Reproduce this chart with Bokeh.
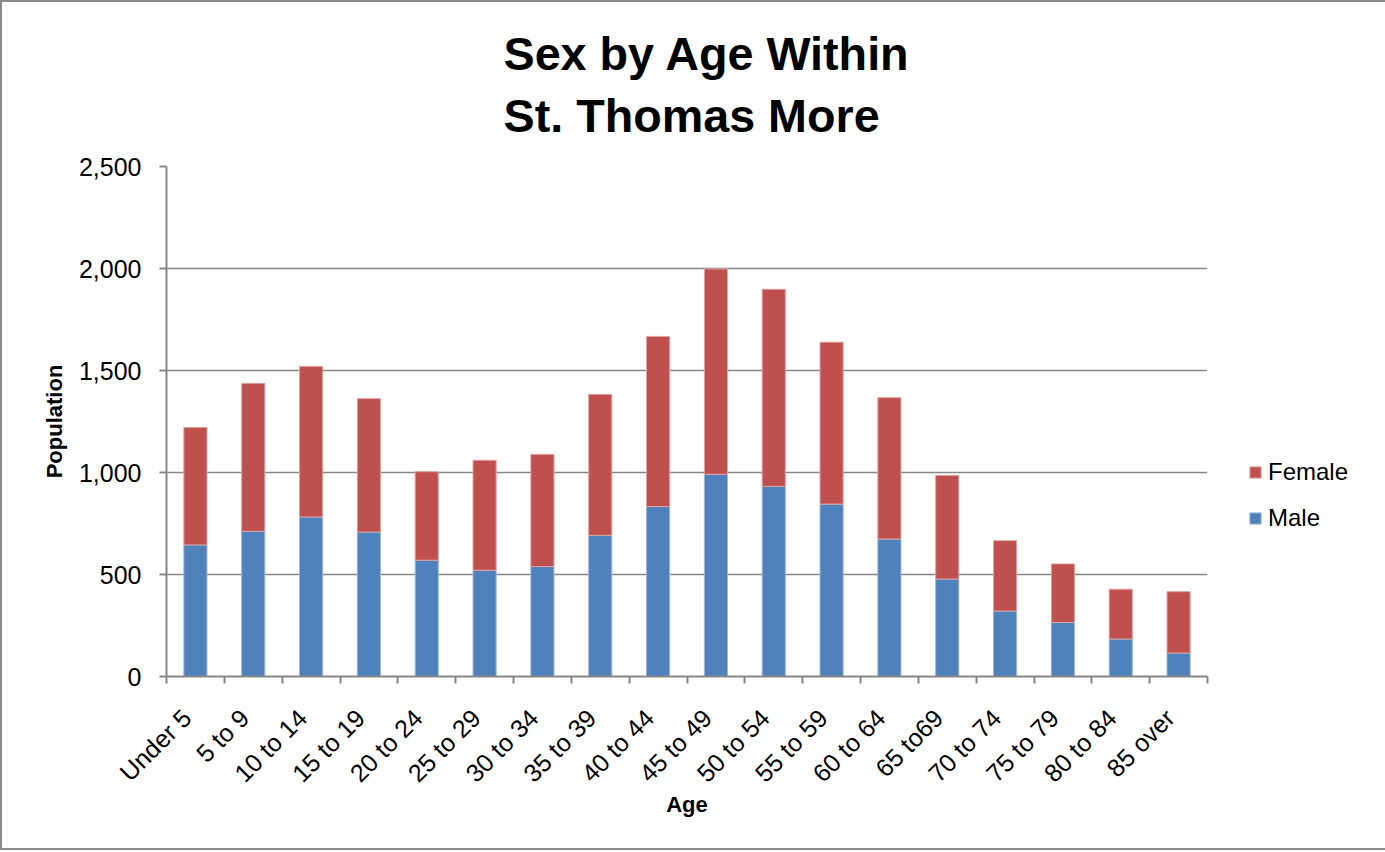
import math
from bokeh.plotting import figure
from bokeh.models import (Range1d, FixedTicker, Legend, LegendItem, Title,
                          NumeralTickFormatter, ColumnDataSource)
from bokeh.embed import file_html
from bokeh.resources import INLINE

categories = ["Under 5", "5 to 9", "10 to 14", "15 to 19", "20 to 24", "25 to 29",
              "30 to 34", "35 to 39", "40 to 44", "45 to 49", "50 to 54", "55 to 59",
              "60 to 64", "65 to69", "70 to 74", "75 to 79", "80 to 84", "85 over"]
male = [645, 712, 782, 708, 570, 521, 539, 692, 833, 991, 932, 845, 674, 478, 321, 265, 184, 115]
female = [576, 725, 738, 654, 434, 539, 550, 691, 834, 1007, 966, 794, 693, 508, 345, 287, 244, 301]
y_ticks = [0, 500, 1000, 1500, 2000, 2500]

FONT = "Liberation Sans"
GRID = "#878787"
BLUE = "#4F81BD"
RED = "#C0504D"

n = len(categories)
xpos = [i + 0.5 for i in range(n)]
label_pos = [i + 0.35 for i in range(n)]  # rotated labels end near the category centre
src = ColumnDataSource(dict(x=xpos, male=male, female=female))

p = figure(frame_width=1041, frame_height=510, output_backend="svg", toolbar_location=None,
           x_range=Range1d(0, n), y_range=Range1d(0, 2500),
           min_border_left=164, min_border_right=174, min_border_top=164,
           min_border_bottom=172)
p.title = None
p.outline_line_color = None
p.background_fill_color = "white"
p.border_fill_color = "white"

rs = p.vbar_stack(["male", "female"], x="x", width=0.4, source=src,
                  color=[BLUE, RED], line_color=["#9DB7DC", "#DDA4A2"], line_width=1)

# title
t = Title(text="Sex by Age Within\nSt. Thomas More", align="left",
          text_font=FONT, text_font_size="46.7px", text_font_style="bold",
          text_color="black", text_line_height=1.2, standoff=48, offset=337)
p.add_layout(t, "above")

# x axis
xa = p.xaxis[0]
xa.ticker = FixedTicker(ticks=label_pos, minor_ticks=list(range(n + 1)))
xa.major_label_overrides = {x: c for x, c in zip(label_pos, categories)}
xa.major_label_orientation = math.pi / 4
xa.major_tick_line_color = None
xa.minor_tick_line_color = GRID
xa.minor_tick_out = 7
xa.minor_tick_in = 0
xa.minor_tick_line_width = 2
xa.axis_line_color = GRID
xa.axis_line_width = 2
xa.major_label_text_font = FONT
xa.major_label_text_font_size = "25px"
xa.major_label_text_color = "black"
xa.major_label_standoff = 30
xa.axis_label = "Age"
xa.axis_label_text_font = FONT
xa.axis_label_text_font_size = "22px"
xa.axis_label_text_font_style = "bold"
xa.axis_label_text_color = "black"
xa.axis_label_standoff = -8

# y axis
ya = p.yaxis[0]
ya.ticker = FixedTicker(ticks=y_ticks)
ya.formatter = NumeralTickFormatter(format="0,0")
ya.major_tick_line_color = GRID
ya.major_tick_out = 7
ya.major_tick_in = 0
ya.major_tick_line_width = 2
ya.minor_tick_line_color = None
ya.axis_line_color = GRID
ya.axis_line_width = 2
ya.major_label_text_font = FONT
ya.major_label_text_font_size = "25px"
ya.major_label_text_color = "black"
ya.major_label_standoff = 18
ya.axis_label = "Population"
ya.axis_label_text_font = FONT
ya.axis_label_text_font_size = "22px"
ya.axis_label_text_font_style = "bold"
ya.axis_label_text_color = "black"
ya.axis_label_standoff = 9

p.xgrid.grid_line_color = None
p.ygrid.ticker = FixedTicker(ticks=y_ticks)
p.ygrid.grid_line_color = GRID
p.ygrid.grid_line_width = 1.5

legend = Legend(items=[LegendItem(label="Female", renderers=[rs[1]]),
                       LegendItem(label="Male", renderers=[rs[0]])],
                location=(41, 144), orientation="vertical",
                glyph_width=14, glyph_height=14, spacing=18,
                label_text_font=FONT, label_text_font_size="24px",
                label_text_color="black", label_standoff=6,
                border_line_color=None, background_fill_alpha=0,
                padding=0, margin=0)
p.add_layout(legend, "right")

p.styles = {"border": "2px solid #8a8a8a"}

open("out.html", "w").write(file_html(p, INLINE))
